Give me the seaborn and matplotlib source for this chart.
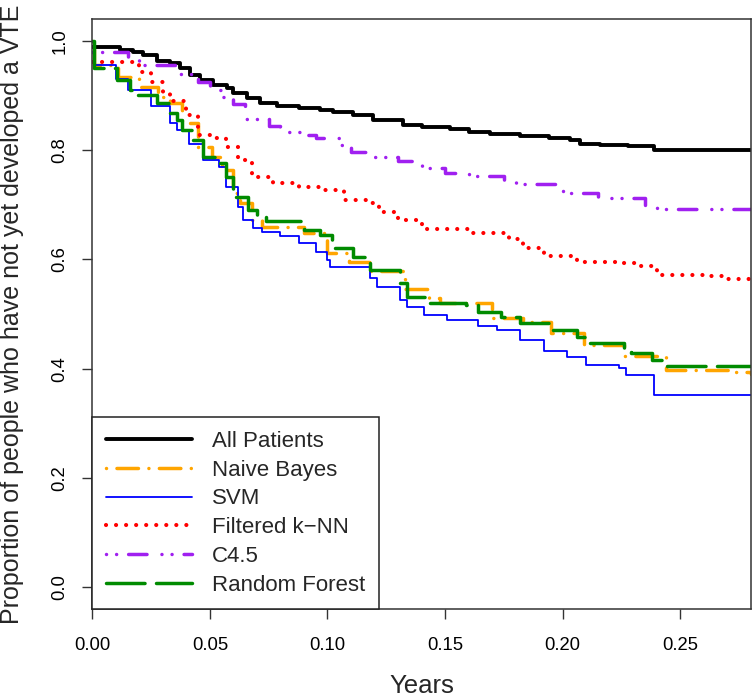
import matplotlib
matplotlib.use("Agg")
import matplotlib.pyplot as plt
import seaborn as sns
import pandas as pd

# Kaplan-Meier style curves (time in years, proportion VTE-free)
# each pair means "from this time onwards the curve sits at this value"
all_t = [0, 0.0118, 0.0175, 0.0217, 0.0274, 0.033, 0.0373, 0.0415, 0.0458, 0.0515,
         0.0572, 0.060, 0.0657, 0.0713, 0.0785, 0.088, 0.0968, 0.1025, 0.111, 0.1195,
         0.132, 0.14, 0.152, 0.16, 0.169, 0.182, 0.194, 0.203, 0.2075, 0.216, 0.228,
         0.239, 0.28]
all_s = [0.989, 0.984, 0.980, 0.974, 0.964, 0.959, 0.95, 0.937, 0.928, 0.919, 0.913,
         0.904, 0.895, 0.886, 0.88, 0.878, 0.874, 0.870, 0.864, 0.856, 0.846, 0.843,
         0.838, 0.833, 0.83, 0.826, 0.822, 0.818, 0.812, 0.809, 0.807, 0.801, 0.801]

nb_t = [0, 0.0008, 0.011, 0.020, 0.028, 0.033, 0.038, 0.045, 0.051, 0.055, 0.060, 0.063,
        0.068, 0.072, 0.090, 0.100, 0.109, 0.118, 0.133, 0.143, 0.148, 0.170, 0.183,
        0.195, 0.209, 0.226, 0.244, 0.271, 0.28]
nb_s = [1.0, 0.955, 0.933, 0.915, 0.897, 0.886, 0.85, 0.806, 0.788, 0.764, 0.722, 0.703,
        0.672, 0.66, 0.648, 0.611, 0.595, 0.578, 0.545, 0.53, 0.52, 0.493, 0.486, 0.465,
        0.444, 0.424, 0.398, 0.393, 0.39]

svm_t = [0, 0.0008, 0.010, 0.015, 0.025, 0.033, 0.036, 0.041, 0.047, 0.054, 0.057, 0.062,
         0.064, 0.0685, 0.072, 0.080, 0.088, 0.095, 0.100, 0.101, 0.118, 0.121, 0.131,
         0.134, 0.141, 0.151, 0.164, 0.172, 0.182, 0.192, 0.202, 0.210, 0.224, 0.227,
         0.239, 0.28]
svm_s = [1.0, 0.955, 0.93, 0.91, 0.88, 0.849, 0.837, 0.812, 0.782, 0.769, 0.733, 0.696,
         0.672, 0.657, 0.651, 0.642, 0.63, 0.614, 0.599, 0.586, 0.566, 0.55, 0.526,
         0.513, 0.499, 0.489, 0.478, 0.47, 0.453, 0.433, 0.422, 0.407, 0.402, 0.389,
         0.352, 0.352]

knn_t = [0, 0.015, 0.018, 0.02, 0.025, 0.03, 0.033, 0.04, 0.045, 0.05, 0.057, 0.062,
         0.068, 0.077, 0.088, 0.097, 0.107, 0.117, 0.122, 0.13, 0.14, 0.16, 0.177, 0.183,
         0.192, 0.206, 0.225, 0.232, 0.24, 0.26, 0.27, 0.28]
knn_s = [0.962, 0.962, 0.955, 0.943, 0.925, 0.905, 0.89, 0.864, 0.827, 0.822, 0.806,
         0.782, 0.751, 0.74, 0.733, 0.727, 0.709, 0.703, 0.687, 0.672, 0.655, 0.648,
         0.637, 0.621, 0.606, 0.596, 0.593, 0.587, 0.572, 0.57, 0.564, 0.564]

c45_t = [0, 0.012, 0.015, 0.02, 0.028, 0.035, 0.045, 0.05, 0.055, 0.06, 0.065, 0.075,
         0.08, 0.09, 0.095, 0.105, 0.11, 0.12, 0.13, 0.14, 0.15, 0.16, 0.175, 0.18, 0.20,
         0.215, 0.235, 0.24, 0.28]
c45_s = [0.98, 0.98, 0.965, 0.955, 0.955, 0.94, 0.925, 0.91, 0.897, 0.885, 0.857, 0.845,
         0.833, 0.828, 0.822, 0.81, 0.797, 0.787, 0.78, 0.768, 0.758, 0.753, 0.745, 0.738,
         0.722, 0.712, 0.70, 0.692, 0.692]

rf_t = [0, 0.0008, 0.0105, 0.016, 0.019, 0.0275, 0.033, 0.036, 0.038, 0.043, 0.047, 0.054,
        0.057, 0.060, 0.066, 0.070, 0.074, 0.090, 0.097, 0.102, 0.111, 0.118, 0.131,
        0.134, 0.143, 0.159, 0.164, 0.174, 0.182, 0.196, 0.206, 0.211, 0.226, 0.229,
        0.238, 0.243, 0.28]
rf_s = [1.0, 0.95, 0.928, 0.91, 0.90, 0.886, 0.868, 0.855, 0.837, 0.818, 0.787, 0.776,
        0.751, 0.714, 0.69, 0.678, 0.670, 0.654, 0.645, 0.621, 0.605, 0.581, 0.557,
        0.532, 0.52, 0.517, 0.504, 0.495, 0.484, 0.471, 0.457, 0.447, 0.438, 0.429,
        0.416, 0.405, 0.405]

models = ["All Patients", "Naive Bayes", "SVM", "Filtered k\u2212NN", "C4.5", "Random Forest"]
times = [all_t, nb_t, svm_t, knn_t, c45_t, rf_t]
survs = [all_s, nb_s, svm_s, knn_s, c45_s, rf_s]

colors = ["black", "#FFA500", "#0000FF", "#FF0000", "#A020F0", "#008B00"]
widths = [2.8, 2.5, 1.3, 3.0, 2.5, 2.5]
styles = ["-",
          (0, (0.01, 3.0, 6.2, 3.0)),
          "-",
          (0, (0.01, 2.4)),
          (0, (0.01, 2.9, 0.01, 3.45, 5.3, 4.3)),
          (0, (11.1, 3.3))]

sns.set_style("ticks")
plt.rcParams['font.family'] = ['Liberation Sans', 'DejaVu Sans']

fig = plt.figure(figsize=(7.53, 6.97), dpi=100)
ax = fig.add_axes([92.3 / 753, 1 - 609 / 697, (751 - 92.3) / 753, 590 / 697])

for name, t, s, c, w, ls in zip(models, times, survs, colors, widths, styles):
    df = pd.DataFrame({"t": t, "s": s})
    sns.lineplot(data=df, x="t", y="s", ax=ax, color=c, linewidth=w, linestyle=ls,
                 drawstyle="steps-post", dash_capstyle="round", solid_capstyle="round",
                 label=name, estimator=None, sort=False)

ax.set_xlim(0, 0.2801)
ax.set_ylim(-0.04, 1.04)
ax.set_xticks([0, 0.05, 0.10, 0.15, 0.20, 0.25])
ax.set_xticklabels(["0.00", "0.05", "0.10", "0.15", "0.20", "0.25"])
ax.set_yticks([0, 0.2, 0.4, 0.6, 0.8, 1.0])
ax.set_yticklabels(["0.0", "0.2", "0.4", "0.6", "0.8", "1.0"])
ax.tick_params(axis="both", direction="out", length=7, width=1, color="#333333",
               labelsize=13.3, labelcolor="black")
ax.tick_params(axis="x", pad=13)
ax.tick_params(axis="y", pad=10, labelrotation=90)
for lab in ax.get_yticklabels():
    lab.set_va("center")

for sp in ax.spines.values():
    sp.set_visible(True)
    sp.set_color("#333333")
    sp.set_linewidth(1.1)

ax.set_xlabel("Years", fontsize=18.5)
ax.set_ylabel("Proportion of people who have not yet developed a VTE", fontsize=18)
ax.xaxis.set_label_coords(0.5, -0.11)
ax.yaxis.set_label_coords(-0.103, 0.5)

leg = ax.legend(loc="lower left", bbox_to_anchor=(0, 0), borderaxespad=0, fancybox=False,
                edgecolor="#222222", framealpha=1, fontsize=16, handlelength=3.9,
                handletextpad=0.9, labelspacing=0.35, borderpad=0.6)
leg.get_frame().set_linewidth(1.1)

fig.savefig("out.png", dpi=100)
